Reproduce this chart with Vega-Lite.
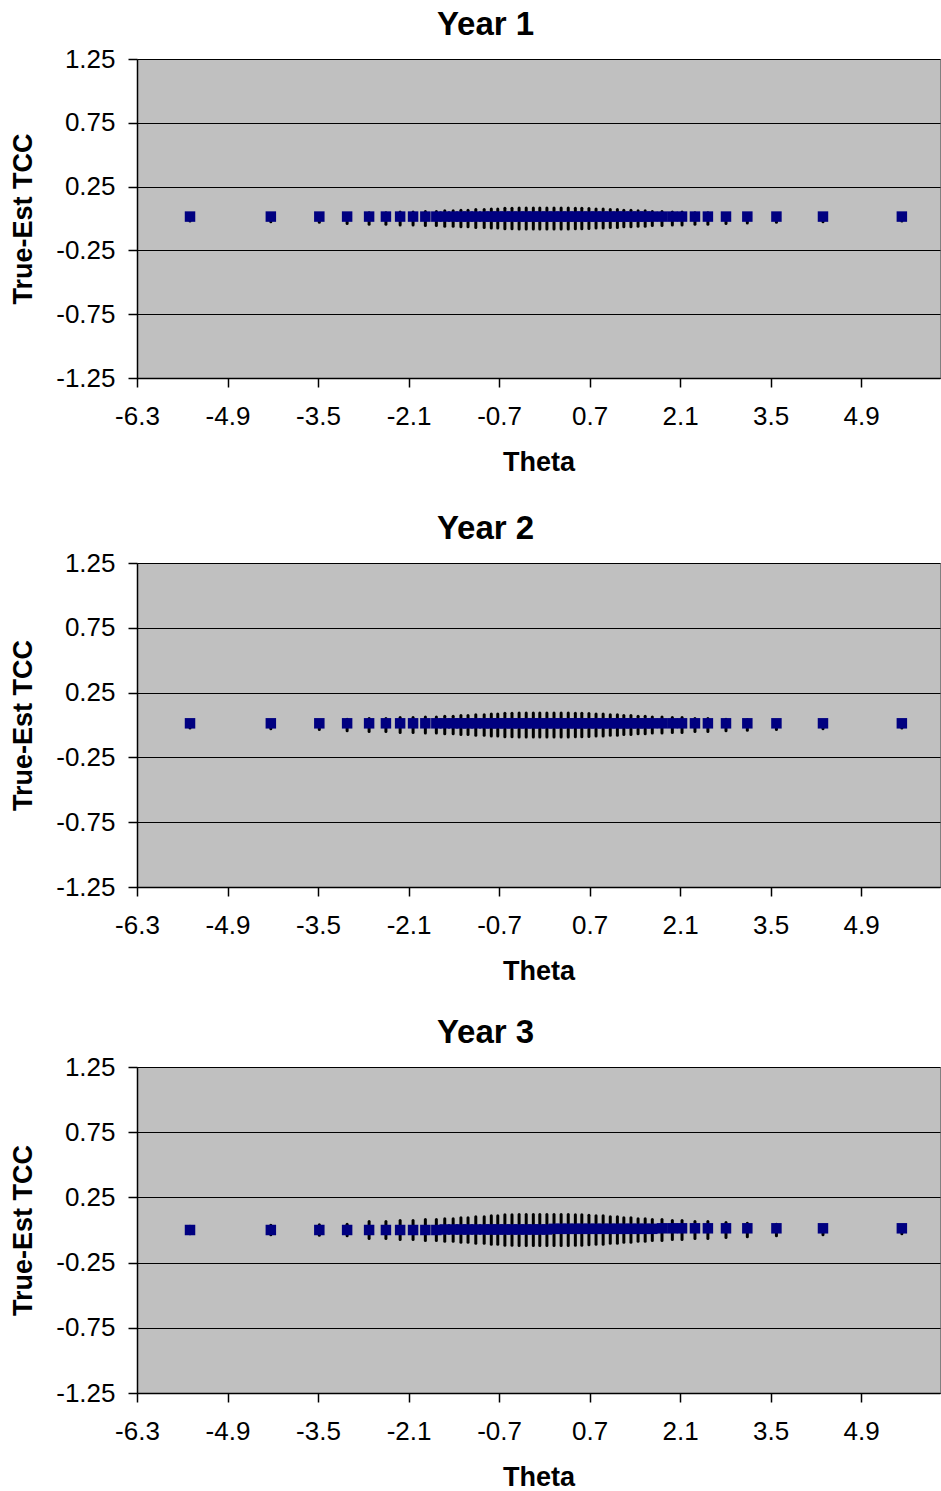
{
"$schema":"https://vega.github.io/schema/vega-lite/v6.json",
"background":"white",
"padding":{"left":9,"top":8,"right":0,"bottom":0},
"spacing":31,
"datasets":{
"y1":[
{"t":-5.48,"d":0.015,"lo":-0.02,"hi":0.02},{"t":-4.23,"d":0.015,"lo":-0.025,"hi":0.025},{"t":-3.48,"d":0.015,"lo":-0.03,"hi":0.03},{"t":-3.05,"d":0.015,"lo":-0.04,"hi":0.04},{"t":-2.71,"d":0.015,"lo":-0.045,"hi":0.045},{"t":-2.45,"d":0.015,"lo":-0.045,"hi":0.045},{"t":-2.23,"d":0.015,"lo":-0.05,"hi":0.05},{"t":-2.03,"d":0.015,"lo":-0.05,"hi":0.05},{"t":-1.84,"d":0.015,"lo":-0.055,"hi":0.055},{"t":-1.67,"d":0.015,"lo":-0.055,"hi":0.055},
{"t":-1.54,"d":0.015,"lo":-0.06,"hi":0.06},{"t":-1.41,"d":0.015,"lo":-0.06,"hi":0.06},{"t":-1.29,"d":0.015,"lo":-0.065,"hi":0.065},{"t":-1.18,"d":0.015,"lo":-0.065,"hi":0.065},{"t":-1.06,"d":0.015,"lo":-0.07,"hi":0.07},{"t":-0.93,"d":0.015,"lo":-0.07,"hi":0.07},{"t":-0.82,"d":0.015,"lo":-0.075,"hi":0.075},{"t":-0.72,"d":0.015,"lo":-0.075,"hi":0.075},{"t":-0.61,"d":0.015,"lo":-0.08,"hi":0.08},{"t":-0.50,"d":0.015,"lo":-0.08,"hi":0.08},
{"t":-0.39,"d":0.015,"lo":-0.082,"hi":0.082},{"t":-0.28,"d":0.015,"lo":-0.082,"hi":0.082},{"t":-0.17,"d":0.015,"lo":-0.082,"hi":0.082},{"t":-0.07,"d":0.015,"lo":-0.082,"hi":0.082},{"t":0.04,"d":0.015,"lo":-0.082,"hi":0.082},{"t":0.15,"d":0.015,"lo":-0.082,"hi":0.082},{"t":0.26,"d":0.015,"lo":-0.082,"hi":0.082},{"t":0.37,"d":0.015,"lo":-0.082,"hi":0.082},{"t":0.48,"d":0.015,"lo":-0.08,"hi":0.08},{"t":0.58,"d":0.015,"lo":-0.08,"hi":0.08},
{"t":0.69,"d":0.015,"lo":-0.078,"hi":0.078},{"t":0.80,"d":0.015,"lo":-0.075,"hi":0.075},{"t":0.91,"d":0.015,"lo":-0.075,"hi":0.075},{"t":1.02,"d":0.015,"lo":-0.07,"hi":0.07},{"t":1.13,"d":0.015,"lo":-0.07,"hi":0.07},{"t":1.23,"d":0.015,"lo":-0.065,"hi":0.065},{"t":1.34,"d":0.015,"lo":-0.065,"hi":0.065},{"t":1.45,"d":0.015,"lo":-0.06,"hi":0.06},{"t":1.56,"d":0.015,"lo":-0.06,"hi":0.06},{"t":1.67,"d":0.015,"lo":-0.055,"hi":0.055},
{"t":1.82,"d":0.015,"lo":-0.055,"hi":0.055},{"t":1.98,"d":0.015,"lo":-0.05,"hi":0.05},{"t":2.13,"d":0.015,"lo":-0.05,"hi":0.05},{"t":2.33,"d":0.015,"lo":-0.045,"hi":0.045},{"t":2.53,"d":0.015,"lo":-0.045,"hi":0.045},{"t":2.81,"d":0.015,"lo":-0.04,"hi":0.04},{"t":3.14,"d":0.015,"lo":-0.035,"hi":0.035},{"t":3.59,"d":0.015,"lo":-0.03,"hi":0.03},{"t":4.31,"d":0.015,"lo":-0.025,"hi":0.025},{"t":5.53,"d":0.015,"lo":-0.02,"hi":0.02}
],
"y2":[
{"t":-5.48,"d":0.013,"lo":-0.023,"hi":0.023},{"t":-4.23,"d":0.013,"lo":-0.028,"hi":0.028},{"t":-3.48,"d":0.013,"lo":-0.034,"hi":0.034},{"t":-3.05,"d":0.013,"lo":-0.045,"hi":0.045},{"t":-2.71,"d":0.013,"lo":-0.051,"hi":0.051},{"t":-2.45,"d":0.013,"lo":-0.051,"hi":0.051},{"t":-2.23,"d":0.013,"lo":-0.057,"hi":0.057},{"t":-2.03,"d":0.013,"lo":-0.057,"hi":0.057},{"t":-1.84,"d":0.013,"lo":-0.062,"hi":0.062},{"t":-1.67,"d":0.013,"lo":-0.062,"hi":0.062},
{"t":-1.54,"d":0.013,"lo":-0.068,"hi":0.068},{"t":-1.41,"d":0.013,"lo":-0.068,"hi":0.068},{"t":-1.29,"d":0.013,"lo":-0.073,"hi":0.073},{"t":-1.18,"d":0.013,"lo":-0.073,"hi":0.073},{"t":-1.06,"d":0.013,"lo":-0.079,"hi":0.079},{"t":-0.93,"d":0.013,"lo":-0.079,"hi":0.079},{"t":-0.82,"d":0.013,"lo":-0.085,"hi":0.085},{"t":-0.72,"d":0.013,"lo":-0.085,"hi":0.085},{"t":-0.61,"d":0.013,"lo":-0.09,"hi":0.09},{"t":-0.50,"d":0.013,"lo":-0.09,"hi":0.09},
{"t":-0.39,"d":0.013,"lo":-0.093,"hi":0.093},{"t":-0.28,"d":0.013,"lo":-0.093,"hi":0.093},{"t":-0.17,"d":0.013,"lo":-0.093,"hi":0.093},{"t":-0.07,"d":0.013,"lo":-0.093,"hi":0.093},{"t":0.04,"d":0.013,"lo":-0.093,"hi":0.093},{"t":0.15,"d":0.013,"lo":-0.093,"hi":0.093},{"t":0.26,"d":0.013,"lo":-0.093,"hi":0.093},{"t":0.37,"d":0.013,"lo":-0.093,"hi":0.093},{"t":0.48,"d":0.013,"lo":-0.09,"hi":0.09},{"t":0.58,"d":0.013,"lo":-0.09,"hi":0.09},
{"t":0.69,"d":0.013,"lo":-0.088,"hi":0.088},{"t":0.80,"d":0.013,"lo":-0.085,"hi":0.085},{"t":0.91,"d":0.013,"lo":-0.085,"hi":0.085},{"t":1.02,"d":0.013,"lo":-0.079,"hi":0.079},{"t":1.13,"d":0.013,"lo":-0.079,"hi":0.079},{"t":1.23,"d":0.013,"lo":-0.073,"hi":0.073},{"t":1.34,"d":0.013,"lo":-0.073,"hi":0.073},{"t":1.45,"d":0.013,"lo":-0.068,"hi":0.068},{"t":1.56,"d":0.013,"lo":-0.068,"hi":0.068},{"t":1.67,"d":0.013,"lo":-0.062,"hi":0.062},
{"t":1.82,"d":0.013,"lo":-0.062,"hi":0.062},{"t":1.98,"d":0.013,"lo":-0.057,"hi":0.057},{"t":2.13,"d":0.013,"lo":-0.057,"hi":0.057},{"t":2.33,"d":0.013,"lo":-0.051,"hi":0.051},{"t":2.53,"d":0.013,"lo":-0.051,"hi":0.051},{"t":2.81,"d":0.013,"lo":-0.045,"hi":0.045},{"t":3.14,"d":0.013,"lo":-0.04,"hi":0.04},{"t":3.59,"d":0.013,"lo":-0.034,"hi":0.034},{"t":4.31,"d":0.013,"lo":-0.028,"hi":0.028},{"t":5.53,"d":0.013,"lo":-0.023,"hi":0.023}
],
"y3":[
{"t":-5.48,"d":0.0,"lo":-0.029,"hi":0.029},{"t":-4.23,"d":0.0,"lo":-0.036,"hi":0.036},{"t":-3.48,"d":0.0,"lo":-0.04,"hi":0.04},{"t":-3.05,"d":0.0,"lo":-0.045,"hi":0.045},{"t":-2.71,"d":0.0,"lo":-0.065,"hi":0.065},{"t":-2.45,"d":0.0,"lo":-0.065,"hi":0.065},{"t":-2.23,"d":0.0,"lo":-0.073,"hi":0.073},{"t":-2.03,"d":0.0,"lo":-0.073,"hi":0.073},{"t":-1.84,"d":0.0,"lo":-0.08,"hi":0.08},{"t":-1.67,"d":0.0,"lo":-0.08,"hi":0.08},
{"t":-1.54,"d":0.004,"lo":-0.087,"hi":0.087},{"t":-1.41,"d":0.004,"lo":-0.087,"hi":0.087},{"t":-1.29,"d":0.004,"lo":-0.094,"hi":0.094},{"t":-1.18,"d":0.004,"lo":-0.094,"hi":0.094},{"t":-1.06,"d":0.004,"lo":-0.102,"hi":0.102},{"t":-0.93,"d":0.004,"lo":-0.102,"hi":0.102},{"t":-0.82,"d":0.004,"lo":-0.109,"hi":0.109},{"t":-0.72,"d":0.004,"lo":-0.109,"hi":0.109},{"t":-0.61,"d":0.004,"lo":-0.116,"hi":0.116},{"t":-0.50,"d":0.004,"lo":-0.116,"hi":0.116},
{"t":-0.39,"d":0.004,"lo":-0.119,"hi":0.119},{"t":-0.28,"d":0.004,"lo":-0.119,"hi":0.119},{"t":-0.17,"d":0.004,"lo":-0.119,"hi":0.119},{"t":-0.07,"d":0.004,"lo":-0.119,"hi":0.119},{"t":0.04,"d":0.004,"lo":-0.119,"hi":0.119},{"t":0.15,"d":0.009,"lo":-0.119,"hi":0.119},{"t":0.26,"d":0.009,"lo":-0.119,"hi":0.119},{"t":0.37,"d":0.009,"lo":-0.119,"hi":0.119},{"t":0.48,"d":0.009,"lo":-0.116,"hi":0.116},{"t":0.58,"d":0.009,"lo":-0.116,"hi":0.116},
{"t":0.69,"d":0.009,"lo":-0.113,"hi":0.113},{"t":0.80,"d":0.009,"lo":-0.109,"hi":0.109},{"t":0.91,"d":0.009,"lo":-0.109,"hi":0.109},{"t":1.02,"d":0.009,"lo":-0.102,"hi":0.102},{"t":1.13,"d":0.009,"lo":-0.102,"hi":0.102},{"t":1.23,"d":0.009,"lo":-0.094,"hi":0.094},{"t":1.34,"d":0.009,"lo":-0.094,"hi":0.094},{"t":1.45,"d":0.009,"lo":-0.087,"hi":0.087},{"t":1.56,"d":0.009,"lo":-0.087,"hi":0.087},{"t":1.67,"d":0.009,"lo":-0.08,"hi":0.08},
{"t":1.82,"d":0.013,"lo":-0.08,"hi":0.08},{"t":1.98,"d":0.013,"lo":-0.073,"hi":0.073},{"t":2.13,"d":0.013,"lo":-0.073,"hi":0.073},{"t":2.33,"d":0.013,"lo":-0.065,"hi":0.065},{"t":2.53,"d":0.013,"lo":-0.065,"hi":0.065},{"t":2.81,"d":0.013,"lo":-0.058,"hi":0.058},{"t":3.14,"d":0.013,"lo":-0.051,"hi":0.051},{"t":3.59,"d":0.013,"lo":-0.044,"hi":0.044},{"t":4.31,"d":0.013,"lo":-0.036,"hi":0.036},{"t":5.53,"d":0.013,"lo":-0.029,"hi":0.029}
]
},
"vconcat":[
{"spacing":36,
 "vconcat":[
{"title":"Year 1","width":803,"height":319,
 "layer":[
  {"data":{"name":"y1"},"mark":{"type":"rule","color":"black","strokeWidth":3,"strokeCap":"round"},
   "encoding":{"x":{"field":"t","type":"quantitative","scale":{"domain":[-6.3,6.12],"nice":false,"zero":false},"axis":{"title":"Theta","values":[-6.3,-4.9,-3.5,-2.1,-0.7,0.7,2.1,3.5,4.9],"format":".1f"}},
   "y":{"field":"lo","type":"quantitative","scale":{"domain":[-1.25,1.25],"nice":false,"zero":false},"axis":{"title":"True-Est TCC","values":[-1.25,-0.75,-0.25,0.25,0.75,1.25],"format":".2f"}},"y2":{"field":"hi"}}},
  {"data":{"name":"y1"},"mark":{"type":"square","color":"#000080","size":110,"opacity":1},
   "encoding":{"x":{"field":"t","type":"quantitative"},"y":{"field":"d","type":"quantitative"}}}
 ]},
{"title":"Year 2","width":803,"height":324,
 "layer":[
  {"data":{"name":"y2"},"mark":{"type":"rule","color":"black","strokeWidth":3,"strokeCap":"round"},
   "encoding":{"x":{"field":"t","type":"quantitative","scale":{"domain":[-6.3,6.12],"nice":false,"zero":false},"axis":{"title":"Theta","values":[-6.3,-4.9,-3.5,-2.1,-0.7,0.7,2.1,3.5,4.9],"format":".1f"}},
   "y":{"field":"lo","type":"quantitative","scale":{"domain":[-1.25,1.25],"nice":false,"zero":false},"axis":{"title":"True-Est TCC","values":[-1.25,-0.75,-0.25,0.25,0.75,1.25],"format":".2f"}},"y2":{"field":"hi"}}},
  {"data":{"name":"y2"},"mark":{"type":"square","color":"#000080","size":110,"opacity":1},
   "encoding":{"x":{"field":"t","type":"quantitative"},"y":{"field":"d","type":"quantitative"}}}
 ]}
 ]},
{"title":"Year 3","width":803,"height":326,
 "layer":[
  {"data":{"name":"y3"},"mark":{"type":"rule","color":"black","strokeWidth":3,"strokeCap":"round"},
   "encoding":{"x":{"field":"t","type":"quantitative","scale":{"domain":[-6.3,6.12],"nice":false,"zero":false},"axis":{"title":"Theta","values":[-6.3,-4.9,-3.5,-2.1,-0.7,0.7,2.1,3.5,4.9],"format":".1f"}},
   "y":{"field":"lo","type":"quantitative","scale":{"domain":[-1.25,1.25],"nice":false,"zero":false},"axis":{"title":"True-Est TCC","values":[-1.25,-0.75,-0.25,0.25,0.75,1.25],"format":".2f"}},"y2":{"field":"hi"}}},
  {"data":{"name":"y3"},"mark":{"type":"square","color":"#000080","size":110,"opacity":1},
   "encoding":{"x":{"field":"t","type":"quantitative"},"y":{"field":"d","type":"quantitative"}}}
 ]}
],
"config":{
 "font":"Liberation Sans",
 "view":{"fill":"#C0C0C0","stroke":"#808080","strokeWidth":1},
 "title":{"font":"Liberation Sans","fontSize":33,"fontWeight":"bold","color":"black","anchor":"middle","frame":"group","offset":4,"dx":-53},
 "axis":{"labelFont":"Liberation Sans","labelFontSize":26,"labelColor":"black","labelExpr":"replace(datum.label, '\u2212', '-')","labelFlush":false,"labelOverlap":false,"titleFont":"Liberation Sans","titleFontSize":27,"titleFontWeight":"bold","titleColor":"black","domainColor":"black","domainWidth":1.5,"tickColor":"black","tickWidth":1.5,"tickSize":9,"gridColor":"black","gridWidth":1,"gridOpacity":1},
 "axisX":{"grid":false,"labelPadding":16,"titlePadding":20},
 "axisY":{"grid":true,"labelPadding":13,"titlePadding":18}
}
}
